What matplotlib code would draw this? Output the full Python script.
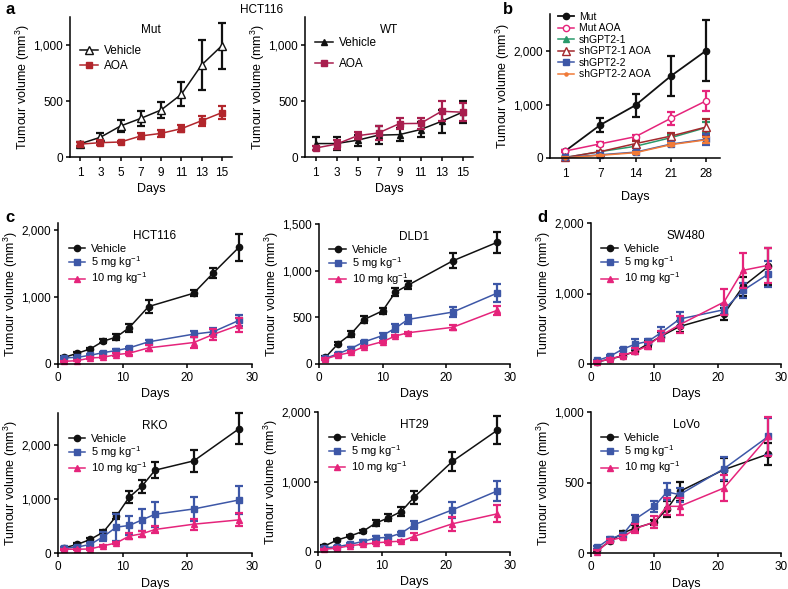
import matplotlib
matplotlib.use('Agg')
import matplotlib.pyplot as plt
from matplotlib.ticker import FuncFormatter
import numpy as np

plt.rcParams['font.family'] = ['Liberation Sans', 'DejaVu Sans']
plt.rcParams['mathtext.fontset'] = 'custom'
plt.rcParams['mathtext.rm'] = 'Liberation Sans'
plt.rcParams['mathtext.default'] = 'regular'
plt.rcParams['font.size'] = 9

# ---- data ----
# panel a (HCT116 Mut / WT)
a_days = [1, 3, 5, 7, 9, 11, 13, 15]
mut_veh = [118, 176, 277, 345, 420, 560, 822, 994]
mut_veh_err = [20, 40, 50, 65, 70, 108, 220, 205]
mut_aoa = [115, 128, 134, 188, 211, 253, 324, 396]
mut_aoa_err = [20, 20, 10, 30, 30, 30, 45, 60]
wt_veh = [120, 120, 150, 195, 200, 245, 318, 400]
wt_veh_err = [60, 55, 50, 80, 55, 70, 100, 100]
wt_aoa = [80, 115, 190, 215, 298, 300, 408, 400]
wt_aoa_err = [20, 40, 30, 60, 50, 50, 90, 80]

# panel b
b_days = ['1', '7', '14', '21', '28']
b_mut = [130, 620, 990, 1535, 2010]
b_mut_err = [20, 135, 215, 370, 570]
b_mut_aoa = [130, 266, 400, 743, 1070]
b_mut_aoa_err = [20, 40, 40, 120, 190]
b_sh1 = [10, 120, 220, 380, 570]
b_sh1_err = [10, 20, 30, 50, 100]
b_sh1_aoa = [10, 120, 270, 410, 580]
b_sh1_aoa_err = [10, 20, 40, 60, 150]
b_sh2 = [10, 60, 110, 260, 350]
b_sh2_err = [10, 15, 30, 40, 100]
b_sh2_aoa = [5, 50, 100, 250, 340]
b_sh2_aoa_err = [5, 10, 20, 30, 60]

# panels c / d : days, vehicle, 5 mg, 10 mg (mean, err)
hct_days = [1, 3, 5, 7, 9, 11, 14, 21, 24, 28]
hct_veh = [100, 160, 225, 340, 400, 540, 855, 1055, 1355, 1740]
hct_veh_err = [15, 20, 20, 25, 40, 60, 100, 40, 70, 200]
hct_5 = [90, 100, 130, 170, 200, 240, 330, 445, 480, 650]
hct_5_err = [10, 10, 15, 15, 20, 20, 30, 50, 50, 80]
hct_10 = [40, 50, 90, 100, 140, 160, 240, 320, 440, 580]
hct_10_err = [10, 10, 15, 15, 20, 20, 40, 80, 80, 100]

dld_days = [1, 3, 5, 7, 10, 12, 14, 21, 28]
dld_veh = [71, 217, 320, 474, 570, 770, 845, 1105, 1304]
dld_veh_err = [10, 15, 35, 40, 35, 40, 40, 80, 110]
dld_5 = [60, 110, 165, 235, 305, 385, 478, 556, 760]
dld_5_err = [10, 10, 15, 15, 25, 40, 45, 50, 100]
dld_10 = [55, 95, 125, 185, 240, 300, 335, 393, 576]
dld_10_err = [10, 10, 10, 10, 10, 10, 10, 30, 50]

sw_days = [1, 3, 5, 7, 9, 11, 14, 21, 24, 28]
sw_veh = [30, 70, 115, 180, 285, 390, 532, 710, 1100, 1383]
sw_veh_err = [10, 10, 15, 20, 40, 60, 80, 90, 140, 260]
sw_5 = [50, 110, 210, 282, 321, 440, 638, 770, 1043, 1276]
sw_5_err = [10, 15, 20, 70, 40, 90, 100, 60, 110, 190]
sw_10 = [30, 70, 120, 180, 260, 400, 558, 879, 1329, 1400]
sw_10_err = [10, 10, 20, 40, 50, 70, 120, 180, 250, 250]

rko_days = [1, 3, 5, 7, 9, 11, 13, 15, 21, 28]
rko_veh = [98, 160, 252, 388, 683, 1034, 1243, 1538, 1711, 2308]
rko_veh_err = [15, 20, 20, 40, 60, 110, 120, 150, 200, 290]
rko_5 = [90, 110, 160, 302, 480, 511, 615, 720, 818, 985]
rko_5_err = [15, 20, 30, 80, 250, 180, 200, 230, 230, 260]
rko_10 = [70, 70, 75, 135, 185, 314, 357, 437, 535, 615]
rko_10_err = [10, 10, 10, 15, 20, 60, 60, 70, 100, 120]

ht_days = [1, 3, 5, 7, 9, 11, 13, 15, 21, 28]
ht_veh = [85, 171, 228, 294, 412, 488, 578, 782, 1294, 1739]
ht_veh_err = [10, 15, 15, 20, 40, 50, 60, 90, 140, 200]
ht_5 = [60, 75, 110, 150, 199, 210, 270, 389, 602, 872]
ht_5_err = [10, 10, 15, 15, 30, 30, 20, 60, 110, 140]
ht_10 = [40, 55, 90, 110, 130, 145, 155, 223, 403, 545]
ht_10_err = [10, 10, 10, 10, 10, 10, 10, 50, 100, 120]

lovo_days = [1, 3, 5, 7, 10, 12, 14, 21, 28]
lovo_veh = [20, 83, 142, 177, 217, 312, 437, 591, 702]
lovo_veh_err = [10, 15, 15, 20, 20, 60, 65, 80, 80]
lovo_5 = [40, 102, 130, 241, 331, 433, 414, 598, 827]
lovo_5_err = [10, 10, 15, 30, 40, 60, 50, 80, 130]
lovo_10 = [10, 90, 111, 173, 220, 331, 331, 461, 827]
lovo_10_err = [10, 10, 15, 30, 40, 60, 60, 90, 140]

BLACK = '#111111'
BLUE = '#3D57A7'
PINK = '#E5247B'

fig = plt.figure(figsize=(7.88, 5.89), dpi=100)
W, H = 788.0, 589.0


def add_ax(l, r, t, b):
    ax = fig.add_axes([l / W, 1 - b / H, (r - l) / W, (b - t) / H])
    ax.spines['top'].set_visible(False)
    ax.spines['right'].set_visible(False)
    ax.spines['left'].set_linewidth(1.1)
    ax.spines['bottom'].set_linewidth(1.1)
    ax.tick_params(direction='out', length=3, width=1.1, labelsize=8.5, pad=2)
    ax.tick_params(axis='x', pad=3)
    ax.yaxis.set_major_formatter(FuncFormatter(lambda v, p: '{:,.0f}'.format(v)))
    ax.set_ylabel('Tumour volume (mm$^3$)', fontsize=9, labelpad=1)
    ax.set_xlabel('Days', fontsize=9, labelpad=3)
    return ax


def series(ax, x, y, e, color, marker, label, ms=4.5, mfc=None, lw=1.1):
    face = mfc if mfc else color
    ax.errorbar(x, y, yerr=e, fmt='none', ecolor=color, elinewidth=1.6,
                capsize=3, capthick=1.6, clip_on=False)
    ax.plot(x, y, color=color, marker=marker, ms=ms, mfc=face, mec=color,
            lw=lw, label=label, clip_on=False)


def legend(ax, fs=8.5, y=0.87, sp=0.3):
    ax.legend(loc='upper left', bbox_to_anchor=(0.02, y), frameon=False,
              fontsize=fs, handlelength=1.5, handletextpad=0.5,
              labelspacing=sp, borderaxespad=0.2)


def title(ax, s):
    ax.text(0.5, 0.95, s, transform=ax.transAxes, ha='center', va='top', fontsize=8.5)


# panel a - Mut
ax = add_ax(70, 232, 17, 157)
series(ax, a_days, mut_veh, mut_veh_err, BLACK, '^', 'Vehicle', ms=6, mfc='white')
series(ax, a_days, mut_aoa, mut_aoa_err, '#B2262C', 's', 'AOA')
ax.set_xlim(0, 16)
ax.set_ylim(0, 1250)
ax.set_xticks(a_days)
ax.set_yticks([0, 500, 1000])
ax.tick_params(axis='x', pad=4)
title(ax, 'Mut')
legend(ax, y=0.85, sp=0.25)

# panel a - WT
ax = add_ax(305, 473, 17, 157)
series(ax, a_days, wt_veh, wt_veh_err, BLACK, '^', 'Vehicle', ms=4)
series(ax, a_days, wt_aoa, wt_aoa_err, '#A81E4E', 's', 'AOA')
ax.set_xlim(0, 16)
ax.set_ylim(0, 1250)
ax.set_xticks(a_days)
ax.set_yticks([0, 500, 1000])
ax.tick_params(axis='x', pad=4)
title(ax, 'WT')
legend(ax, y=0.91, sp=0.8)
fig.text(262 / W, 1 - 10 / H, 'HCT116', ha='center', va='center', fontsize=8.5)

# panel b
ax = add_ax(550, 720, 14, 158)
bx = np.arange(len(b_days))
series(ax, bx, b_mut, b_mut_err, BLACK, 'o', 'Mut', lw=1.3)
series(ax, bx, b_mut_aoa, b_mut_aoa_err, PINK, 'o', 'Mut AOA', mfc='white')
series(ax, bx, b_sh1, b_sh1_err, '#2A9A6B', '^', 'shGPT2-1')
series(ax, bx, b_sh1_aoa, b_sh1_aoa_err, '#A3292E', '^', 'shGPT2-1 AOA', ms=6, mfc='white')
series(ax, bx, b_sh2, b_sh2_err, BLUE, 's', 'shGPT2-2')
series(ax, bx, b_sh2_aoa, b_sh2_aoa_err, '#F07A38', '.', 'shGPT2-2 AOA')
ax.set_xlim(-0.43, 4.4)
ax.set_ylim(0, 2700)
ax.set_xticks(bx)
ax.set_xticklabels(b_days)
ax.set_yticks([0, 1000, 2000])
ax.tick_params(axis='x', pad=4)
ax.set_xlabel('Days', fontsize=9, labelpad=8)
ax.legend(loc='upper left', bbox_to_anchor=(0.01, 1.06), frameon=False,
          fontsize=7.5, handlelength=1.5, handletextpad=0.5,
          labelspacing=0.15, borderaxespad=0.2)

# panels c / d
panels = [
    ('HCT116', (58, 252, 223, 364), hct_days, hct_veh, hct_veh_err, hct_5, hct_5_err, hct_10, hct_10_err, 2100, [0, 1000, 2000]),
    ('DLD1', (319, 510, 224, 364), dld_days, dld_veh, dld_veh_err, dld_5, dld_5_err, dld_10, dld_10_err, 1500, [0, 500, 1000, 1500]),
    ('SW480', (591, 781, 223, 364), sw_days, sw_veh, sw_veh_err, sw_5, sw_5_err, sw_10, sw_10_err, 2000, [0, 1000, 2000]),
    ('RKO', (58, 252, 413, 553), rko_days, rko_veh, rko_veh_err, rko_5, rko_5_err, rko_10, rko_10_err, 2600, [0, 1000, 2000]),
    ('HT29', (318, 510, 412, 552), ht_days, ht_veh, ht_veh_err, ht_5, ht_5_err, ht_10, ht_10_err, 2000, [0, 1000, 2000]),
    ('LoVo', (591, 781, 412, 553), lovo_days, lovo_veh, lovo_veh_err, lovo_5, lovo_5_err, lovo_10, lovo_10_err, 1000, [0, 500, 1000]),
]
for name, box, d, v, ve, f5, f5e, t10, t10e, ymax, yt in panels:
    ax = add_ax(*box)
    series(ax, d, v, ve, BLACK, 'o', 'Vehicle')
    series(ax, d, f5, f5e, BLUE, 's', '5 mg kg$^{-1}$')
    series(ax, d, t10, t10e, PINK, '^', '10 mg kg$^{-1}$')
    ax.set_xlim(0, 30)
    ax.set_ylim(0, ymax)
    ax.set_xticks([0, 10, 20, 30])
    ax.set_yticks(yt)
    title(ax, name)
    legend(ax, fs=8, y=0.9, sp=0.05)

# panel letters
for s, x, y in [('a', 5, 10), ('b', 503, 10), ('c', 5, 218), ('d', 537, 218)]:
    fig.text(x / W, 1 - y / H, s, ha='left', va='center', fontsize=12, fontweight='bold')

fig.savefig('out.png', dpi=100)
